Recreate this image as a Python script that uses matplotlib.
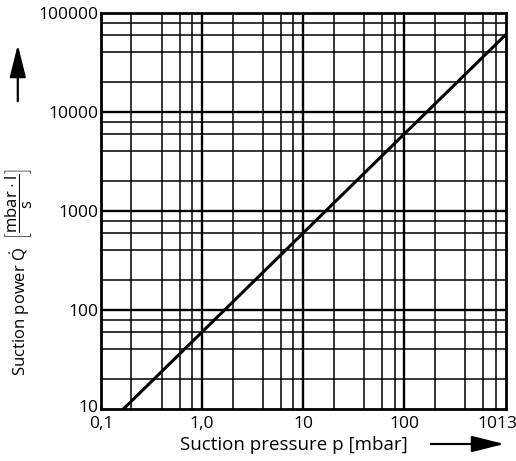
import matplotlib
matplotlib.use("Agg")
import matplotlib.pyplot as plt
import matplotlib.transforms as mtransforms
from matplotlib.patches import FancyArrowPatch

# Data (straight line on log-log paper)
pressure = [0.1667, 1013]        # mbar
suction = [10, 60780]            # mbar*l/s

x_ticks = [0.1, 1, 10, 100, 1013]
x_labels = ["0,1", "1,0", "10", "100", "1013"]
y_ticks = [10, 100, 1000, 10000, 100000]
y_labels = ["10", "100", "1000", "10000", "100000"]
grid_steps = [2, 4, 6, 8]

plt.rcParams['font.family'] = ['Open Sans', 'DejaVu Sans']
plt.rcParams['mathtext.fontset'] = 'custom'
plt.rcParams['mathtext.rm'] = 'Open Sans'

fig = plt.figure(figsize=(5.16, 4.61), dpi=100)
ax = fig.add_axes([0.1957, 0.1128, 0.7849, 0.859])
ax.set_xscale('log')
ax.set_yscale('log')
ax.set_xlim(0.1, 1013)
ax.set_ylim(10, 100000)

# grid lines: decades and 2,4,6,8 within each decade
for d in [0.1, 1, 10, 100]:
    if d > 0.1:
        ax.axvline(d, color='black', lw=1.7, zorder=1)
    for s in grid_steps:
        ax.axvline(d * s, color='black', lw=1.1, zorder=1)
for d in [10, 100, 1000, 10000]:
    if d > 10:
        ax.axhline(d, color='black', lw=1.7, zorder=1)
    for s in grid_steps:
        ax.axhline(d * s, color='black', lw=1.1, zorder=1)

ax.plot(pressure, suction, color='black', lw=2.2, zorder=3)

ax.set_xticks(x_ticks)
ax.set_xticklabels(x_labels)
ax.set_yticks(y_ticks)
ax.set_yticklabels(y_labels)
ax.minorticks_off()
ax.tick_params(length=0, labelsize=12.5)
ax.tick_params(axis='y', pad=2)
ax.tick_params(axis='x', pad=5)
for sp in ax.spines.values():
    sp.set_linewidth(2)

# last x label sits a bit left of the axis end, bottom y label a bit up
last = ax.get_xticklabels()[-1]
last.set_transform(last.get_transform() + mtransforms.ScaledTranslation(-9 / 100, 0, fig.dpi_scale_trans))
first = ax.get_yticklabels()[0]
first.set_transform(first.get_transform() + mtransforms.ScaledTranslation(0, 3 / 100, fig.dpi_scale_trans))

fig.text(0.036, 1 - 272 / 461,
         r'Suction power $\dot{\mathrm{Q}}$  $\left[\dfrac{\mathrm{mbar}\cdot\mathrm{l}}{\mathrm{s}}\right]$',
         rotation=90, ha='center', va='center', fontsize=12)
fig.text(180 / 516, 1 - 445 / 461, 'Suction pressure p [mbar]', ha='left', va='center', fontsize=13.5)

# arrows
fig.add_artist(FancyArrowPatch(
    (0.0345, 1 - 104 / 461), (0.0345, 1 - 42 / 461), transform=fig.transFigure,
    arrowstyle='-|>,head_length=1.0,head_width=0.25', mutation_scale=20, color='black', lw=1.6))
fig.add_artist(FancyArrowPatch(
    (428 / 516, 1 - 444 / 461), (507 / 516, 1 - 444 / 461), transform=fig.transFigure,
    arrowstyle='-|>,head_length=1.0,head_width=0.25', mutation_scale=20, color='black', lw=1.6))

fig.savefig('out.png', dpi=100)
